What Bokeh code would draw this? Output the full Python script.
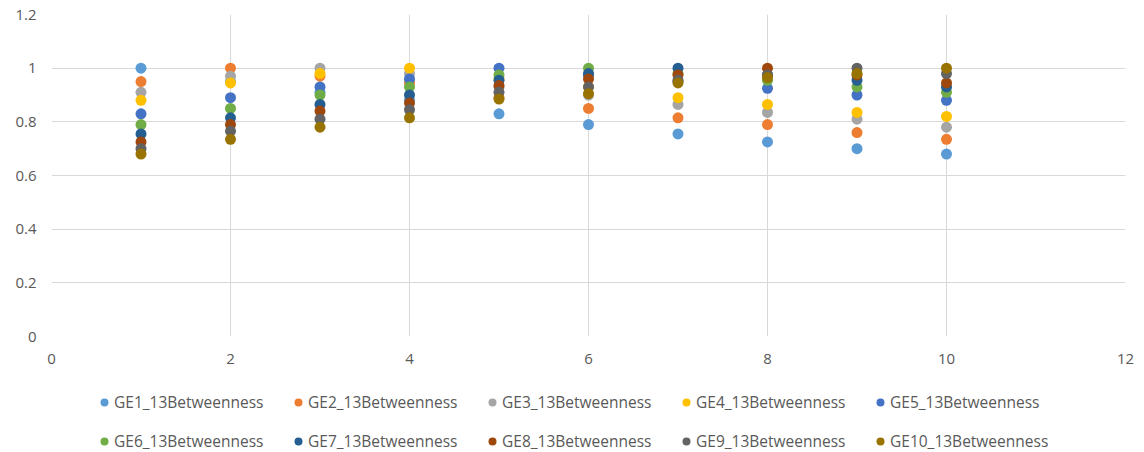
from bokeh.plotting import figure
from bokeh.layouts import column
from bokeh.models import Range1d, Legend, LegendItem, FixedTicker, CustomJSTickFormatter
from bokeh.embed import file_html
from bokeh.resources import INLINE

x_vals = [1, 2, 3, 4, 5, 6, 7, 8, 9, 10]

series_names = ["GE1_13Betweenness", "GE2_13Betweenness", "GE3_13Betweenness", "GE4_13Betweenness",
                "GE5_13Betweenness", "GE6_13Betweenness", "GE7_13Betweenness", "GE8_13Betweenness",
                "GE9_13Betweenness", "GE10_13Betweenness"]

ge1 = [1.0, 0.95, 0.91, 0.88, 0.83, 0.79, 0.755, 0.725, 0.70, 0.68]
ge2 = [0.95, 1.0, 0.97, 0.945, 0.89, 0.85, 0.815, 0.79, 0.76, 0.735]
ge3 = [0.91, 0.97, 1.0, 0.98, 0.93, 0.90, 0.865, 0.835, 0.81, 0.78]
ge4 = [0.88, 0.945, 0.98, 1.0, 0.96, 0.93, 0.89, 0.865, 0.835, 0.82]
ge5 = [0.83, 0.89, 0.93, 0.96, 1.0, 0.975, 0.95, 0.925, 0.90, 0.88]
ge6 = [0.79, 0.85, 0.90, 0.93, 0.975, 1.0, 0.98, 0.955, 0.93, 0.91]
ge7 = [0.755, 0.815, 0.865, 0.90, 0.955, 0.98, 1.0, 0.975, 0.955, 0.93]
ge8 = [0.725, 0.79, 0.84, 0.87, 0.935, 0.96, 0.975, 1.0, 0.975, 0.945]
ge9 = [0.70, 0.765, 0.81, 0.845, 0.91, 0.93, 0.955, 0.975, 1.0, 0.98]
ge10 = [0.68, 0.735, 0.78, 0.815, 0.885, 0.905, 0.945, 0.965, 0.98, 1.0]

series_values = [ge1, ge2, ge3, ge4, ge5, ge6, ge7, ge8, ge9, ge10]
colors = ["#5B9BD5", "#ED7D31", "#A5A5A5", "#FFC000", "#4472C4",
          "#70AD47", "#255E91", "#9E480E", "#636363", "#997300"]

x_ticks = [0, 2, 4, 6, 8, 10, 12]
y_ticks = [0, 0.2, 0.4, 0.6, 0.8, 1.0, 1.2]

FONT = "Open Sans"
TXT = "#595959"

# main plot
p = figure(width=1144, height=370, output_backend="svg", toolbar_location=None,
           x_range=Range1d(0, 12), y_range=Range1d(0, 1.2),
           min_border_left=51, min_border_right=19, min_border_top=14, min_border_bottom=34)
p.outline_line_color = None
p.background_fill_color = "white"
p.border_fill_color = "white"

for name, vals, c in zip(series_names, series_values, colors):
    p.scatter(x_vals, vals, size=11, fill_color=c, line_color=c, line_width=0)

for ax, ticks in ((p.xaxis[0], x_ticks), (p.yaxis[0], y_ticks)):
    ax.ticker = FixedTicker(ticks=ticks)
    ax.major_tick_line_color = None
    ax.minor_tick_line_color = None
    ax.axis_line_color = None
    ax.major_label_text_font = FONT
    ax.major_label_text_font_size = "15px"
    ax.major_label_text_color = TXT
    ax.formatter = CustomJSTickFormatter(code="return tick.toFixed(1).replace(/\\.0$/, '');")

p.xaxis.major_label_standoff = 11
p.yaxis.major_label_standoff = 9

p.xgrid.grid_line_color = "#d9d9d9"
p.ygrid.grid_line_color = "#d9d9d9"
p.xgrid.ticker = FixedTicker(ticks=x_ticks)
p.ygrid.ticker = FixedTicker(ticks=y_ticks)

# legend strip (proxy renderers kept out of view)
lg = figure(width=1144, height=82, output_backend="svg", toolbar_location=None,
            x_range=Range1d(100, 101), y_range=Range1d(100, 101),
            min_border=0, min_border_left=0, min_border_right=0, min_border_top=0, min_border_bottom=0)
lg.axis.visible = False
lg.grid.visible = False
lg.outline_line_color = None
lg.border_fill_color = "white"

items = []
for name, vals, c in zip(series_names, series_values, colors):
    r = lg.scatter([x_vals[0]], [vals[0]], size=9, fill_color=c, line_color=c, line_width=0)
    items.append(LegendItem(label=name, renderers=[r]))

legend = Legend(items=items, orientation="horizontal", nrows=2, location=(43, 0),
                label_text_font=FONT, label_text_font_size="15.5px", label_text_color=TXT,
                glyph_width=20, glyph_height=20, label_standoff=0, spacing=17,
                label_width=157, label_height=20,
                border_line_color=None, background_fill_alpha=0, margin=0, padding=0)
lg.add_layout(legend, "center")

layout = column(p, lg, spacing=0)
open("out.html", "w").write(file_html(layout, INLINE))
